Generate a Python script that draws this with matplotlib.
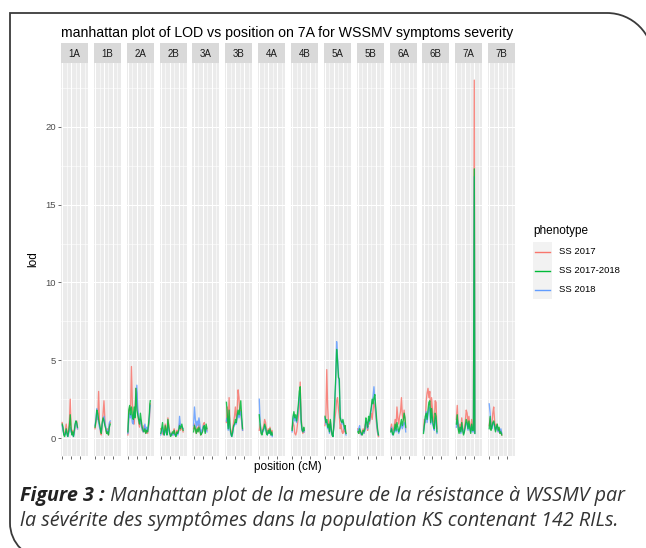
"""
Manhattan plot of LOD scores along the 14 wheat chromosomes for three
WSSMV symptom severity phenotypes, drawn as a ggplot-like facet row.
"""
import matplotlib
matplotlib.use("Agg")
import matplotlib.pyplot as plt
from matplotlib.path import Path
from matplotlib.patches import PathPatch, Rectangle

CHROMOSOMES = ["1A", "1B", "2A", "2B", "3A", "3B", "4A",
               "4B", "5A", "5B", "6A", "6B", "7A", "7B"]
PHENOTYPES = ["SS 2017", "SS 2017-2018", "SS 2018"]

# marker positions (cM) and LOD per phenotype, chromosome by chromosome
POS_1A = [0, 9, 18, 27, 36, 45, 54, 63, 72, 81, 90, 99, 108, 117, 126,
          135, 144, 153, 162, 171]
SS17_1A = [1.0, 0.6, 0.3, 0.2, 0.5, 0.9, 0.4, 0.2, 0.6, 1.1, 2.5, 0.8, 0.3,
           0.5, 0.2, 0.4, 0.7, 1.0, 1.1, 0.6]
SS1718_1A = [0.9, 0.7, 0.2, 0.1, 0.3, 0.6, 0.3, 0.1, 0.4, 0.8, 1.5, 0.6,
             0.2, 0.4, 0.1, 0.5, 0.9, 1.1, 1.0, 0.7]
SS18_1A = [0.8, 0.5, 0.3, 0.2, 0.3, 0.5, 0.2, 0.1, 0.3, 0.5, 0.7, 0.4, 0.3,
           0.2, 0.1, 0.3, 0.8, 1.1, 0.9, 0.6]

POS_1B = [0, 10, 20, 30, 40, 50, 60, 70, 80, 90, 100, 110, 120, 130, 140,
          150, 160, 170]
SS17_1B = [0.6, 1.0, 1.4, 1.2, 3.0, 1.0, 0.4, 0.2, 0.8, 1.6, 2.4, 1.2, 0.5,
           0.3, 0.6, 0.2, 0.9, 1.0]
SS1718_1B = [0.7, 1.1, 1.8, 1.6, 1.2, 0.9, 0.6, 0.3, 1.0, 1.3, 1.1, 0.8,
             0.6, 0.3, 0.4, 0.2, 0.7, 0.9]
SS18_1B = [0.8, 1.2, 1.9, 1.3, 1.0, 0.7, 0.5, 0.4, 0.9, 1.1, 1.4, 1.0, 0.7,
           0.4, 0.5, 0.3, 1.0, 1.1]

POS_2A = [0, 10, 20, 30, 40, 50, 60, 70, 80, 90, 100, 110, 120, 130, 140,
          150, 160, 170, 180, 190, 200, 210, 220, 230, 240, 245, 250]
SS17_2A = [0.2, 1.5, 2.0, 1.8, 4.6, 2.2, 1.4, 0.9, 1.8, 3.2, 2.9, 1.6, 1.0,
           0.7, 1.2, 0.9, 0.5, 0.4, 0.8, 0.6, 0.3, 0.5, 0.3, 0.7, 1.2, 1.8,
           2.2]
SS1718_2A = [0.4, 1.8, 2.1, 1.5, 2.0, 1.4, 1.2, 2.0, 1.3, 3.2, 1.8, 1.5,
             1.2, 0.9, 1.6, 1.1, 0.7, 0.5, 0.4, 0.6, 0.3, 0.5, 0.4, 0.9,
             1.6, 2.2, 2.4]
SS18_2A = [0.3, 1.2, 1.6, 1.3, 1.5, 1.0, 0.9, 1.7, 1.4, 2.6, 3.4, 1.9, 1.4,
           1.0, 1.2, 0.8, 0.6, 0.4, 0.6, 0.9, 0.5, 0.7, 0.4, 0.8, 1.3, 1.9,
           2.1]

POS_2B = [0, 10, 20, 30, 40, 50, 60, 70, 80, 90, 100, 110, 120, 130, 140,
          150, 160, 170, 180, 190, 200, 210, 220, 235, 250]
SS17_2B = [0.6, 0.5, 0.3, 0.2, 0.4, 0.9, 0.6, 0.3, 1.3, 0.8, 0.4, 0.2, 0.3,
           0.2, 0.4, 0.6, 0.3, 0.2, 0.5, 0.3, 0.6, 0.9, 0.5, 0.7, 0.4]
SS1718_2B = [0.3, 0.6, 1.0, 0.4, 0.2, 0.8, 0.5, 0.2, 1.2, 0.7, 0.3, 0.1,
             0.2, 0.4, 0.3, 0.5, 0.2, 0.1, 0.4, 0.3, 0.5, 0.8, 0.6, 0.9,
             0.5]
SS18_2B = [0.2, 0.4, 0.7, 0.3, 0.2, 0.5, 0.4, 0.2, 0.8, 0.5, 0.3, 0.2, 0.3,
           0.2, 0.2, 0.3, 0.2, 0.2, 0.3, 0.2, 0.4, 1.4, 0.8, 0.7, 0.6]

POS_3A = [0, 10, 20, 30, 40, 50, 60, 70, 80, 90, 100, 110, 120, 130, 140,
          150]
SS17_3A = [0.6, 0.9, 0.5, 0.3, 0.7, 0.4, 0.9, 0.6, 0.2, 0.3, 0.5, 0.9, 1.0,
           0.4, 0.7, 0.5]
SS1718_3A = [0.4, 0.8, 0.6, 0.3, 0.6, 0.4, 0.7, 0.5, 0.2, 0.3, 0.4, 0.7,
             0.8, 0.3, 0.9, 0.6]
SS18_3A = [0.8, 2.0, 1.2, 0.7, 1.1, 0.8, 1.3, 0.9, 0.3, 0.5, 0.6, 0.8, 0.7,
           0.4, 0.6, 0.4]

POS_3B = [0, 10, 20, 30, 40, 50, 60, 70, 80, 90, 100, 110, 120, 130, 140,
          150, 160, 170, 180]
SS17_3B = [1.0, 2.0, 0.8, 2.6, 0.9, 0.4, 0.2, 0.6, 1.0, 1.4, 2.0, 1.2, 1.8,
           3.1, 2.6, 1.5, 1.8, 1.0, 0.5]
SS1718_3B = [2.3, 1.5, 0.6, 1.8, 0.7, 0.3, 0.1, 0.4, 0.8, 0.9, 1.2, 1.0,
             1.5, 1.8, 1.5, 1.9, 2.4, 1.4, 0.6]
SS18_3B = [1.1, 1.3, 0.5, 1.2, 0.6, 0.2, 0.1, 0.3, 0.7, 0.8, 1.0, 0.9, 1.3,
           1.6, 1.3, 1.5, 1.7, 1.1, 0.5]

POS_4A = [0, 10, 20, 30, 40, 50, 60, 70, 80, 90, 100, 110, 120, 130, 140,
          145]
SS17_4A = [0.5, 0.9, 0.4, 0.3, 0.6, 0.8, 1.2, 1.0, 0.5, 0.3, 0.6, 0.4, 0.7,
           0.3, 0.5, 0.2]
SS1718_4A = [1.5, 0.8, 0.3, 0.2, 0.5, 0.6, 0.9, 0.7, 0.3, 0.2, 0.5, 0.3,
             0.6, 0.2, 0.4, 0.2]
SS18_4A = [2.5, 1.0, 0.5, 0.3, 0.4, 0.5, 0.8, 0.6, 0.4, 0.2, 0.4, 0.3, 0.5,
           0.2, 0.3, 0.1]

POS_4B = [0, 10, 20, 30, 40, 50, 60, 70, 80, 90, 100, 110, 120, 130, 135]
SS17_4B = [0.6, 1.0, 0.8, 0.3, 0.2, 0.4, 0.9, 1.4, 2.0, 3.6, 1.5, 0.5, 0.3,
           0.6, 0.4]
SS1718_4B = [0.5, 1.4, 1.7, 1.3, 1.5, 1.1, 1.6, 2.2, 3.0, 3.3, 1.2, 0.6,
             0.4, 0.7, 0.5]
SS18_4B = [0.4, 1.2, 1.5, 1.1, 1.3, 1.0, 1.4, 1.9, 2.6, 2.9, 1.0, 0.5, 0.4,
           0.6, 0.4]

POS_5A = [0, 10, 20, 30, 40, 50, 60, 70, 80, 90, 100, 110, 120, 130, 140,
          150, 160, 170, 180, 190, 200, 210, 220, 225, 230, 235]
SS17_5A = [0.8, 1.4, 4.4, 2.0, 0.9, 0.5, 1.1, 0.4, 0.2, 0.3, 0.7, 1.2, 1.7,
           2.4, 2.6, 1.9, 1.4, 0.6, 0.9, 0.4, 0.3, 0.6, 0.4, 0.8, 0.5, 0.3]
SS1718_5A = [1.4, 1.0, 1.2, 0.7, 0.9, 0.4, 1.2, 0.6, 0.2, 0.1, 1.0, 2.5,
             4.0, 5.7, 5.0, 3.9, 3.8, 1.3, 1.1, 1.0, 1.2, 0.9, 0.6, 0.8,
             0.4, 0.3]
SS18_5A = [1.3, 0.9, 1.1, 0.6, 0.8, 0.3, 1.0, 0.5, 0.2, 0.1, 0.8, 2.2, 3.6,
           6.2, 5.2, 4.2, 3.3, 1.4, 1.1, 0.9, 1.1, 0.7, 0.5, 0.7, 0.3, 0.2]

POS_5B = [0, 10, 20, 30, 40, 50, 60, 70, 80, 90, 100, 110, 120, 130, 140,
          150, 160, 170, 180, 190, 200, 210, 220, 230]
SS17_5B = [0.6, 0.4, 0.3, 0.5, 0.2, 0.4, 0.6, 0.3, 0.8, 1.0, 0.7, 0.5, 1.2,
           0.9, 1.3, 1.6, 1.2, 1.8, 2.3, 2.0, 1.5, 0.8, 0.3, 0.1]
SS1718_5B = [0.4, 0.3, 0.6, 0.4, 0.3, 0.2, 0.5, 0.4, 0.6, 1.3, 1.0, 0.7,
             1.4, 1.1, 1.6, 2.0, 2.5, 2.2, 2.6, 2.8, 2.0, 1.2, 0.6, 0.2]
SS18_5B = [0.5, 0.6, 0.8, 0.3, 0.2, 0.3, 0.4, 0.3, 0.5, 1.1, 0.8, 0.6, 1.2,
           1.0, 1.5, 1.8, 2.3, 2.7, 3.3, 2.5, 1.7, 1.0, 0.4, 0.2]

POS_6A = [0, 10, 20, 30, 40, 50, 60, 70, 80, 90, 100, 110, 120, 130, 140,
          150, 160, 168]
SS17_6A = [0.6, 0.9, 0.4, 0.5, 0.8, 1.2, 0.7, 2.0, 1.3, 0.9, 1.4, 1.7, 2.6,
           1.5, 1.2, 1.8, 1.1, 0.6]
SS1718_6A = [0.4, 0.6, 0.3, 0.2, 0.5, 0.9, 0.5, 1.0, 0.7, 0.4, 0.6, 0.9,
             1.2, 0.8, 1.1, 1.6, 1.3, 0.7]
SS18_6A = [0.5, 0.7, 0.2, 0.3, 0.4, 0.7, 0.4, 0.6, 0.5, 0.3, 0.5, 0.7, 0.9,
           0.6, 0.8, 1.0, 0.9, 0.4]

POS_6B = [0, 10, 20, 30, 40, 50, 60, 70, 80, 90, 100, 110, 120, 130, 140,
          150]
SS17_6B = [0.5, 1.2, 1.0, 2.4, 2.9, 3.2, 2.6, 3.0, 1.6, 2.6, 1.8, 1.2, 1.0,
           2.4, 2.3, 0.6]
SS1718_6B = [0.3, 0.9, 1.4, 1.6, 1.2, 1.8, 2.3, 2.4, 1.0, 1.9, 1.2, 0.8,
             0.6, 1.6, 1.4, 0.4]
SS18_6B = [0.4, 0.8, 1.1, 1.7, 1.0, 1.5, 1.9, 2.0, 0.9, 1.6, 1.0, 0.7, 0.5,
           1.3, 1.1, 0.3]

POS_7A = [0, 10, 20, 30, 40, 50, 60, 70, 80, 90, 100, 110, 120, 130, 140,
          150, 160, 170, 180, 190, 200, 206]
SS17_7A = [1.2, 2.1, 0.8, 0.4, 0.9, 0.5, 1.3, 0.7, 0.3, 0.6, 1.1, 1.8, 1.6,
           0.9, 1.4, 0.8, 0.5, 1.2, 0.7, 0.6, 23.0, 0.4]
SS1718_7A = [0.9, 1.5, 0.6, 0.3, 0.7, 0.4, 1.0, 0.5, 0.2, 0.4, 0.8, 1.2,
             1.0, 0.6, 1.1, 0.6, 0.3, 0.9, 0.5, 0.5, 17.3, 0.3]
SS18_7A = [0.7, 1.2, 0.9, 0.5, 0.6, 0.3, 0.8, 0.6, 0.3, 0.5, 0.7, 1.0, 0.9,
           0.5, 0.9, 0.7, 0.4, 0.8, 0.4, 0.4, 16.8, 0.3]

POS_7B = [0, 10, 20, 30, 40, 50, 60, 70, 80, 90, 100, 110, 120, 130, 140]
SS17_7B = [0.8, 1.3, 0.6, 0.9, 1.6, 2.0, 1.1, 0.5, 0.9, 0.7, 0.4, 0.6, 0.3,
           0.5, 0.2]
SS1718_7B = [0.6, 1.4, 0.5, 0.7, 1.0, 1.1, 0.8, 0.4, 0.7, 0.9, 0.5, 0.7,
             0.3, 0.4, 0.2]
SS18_7B = [2.2, 1.6, 0.7, 0.6, 0.9, 1.0, 0.7, 0.5, 0.8, 0.6, 0.4, 0.5, 0.4,
           0.6, 0.3]

X_TICKS = [0, 100, 200]
Y_TICKS = [0, 5, 10, 15, 20]

COLORS = {"SS 2017": "#F8766D", "SS 2017-2018": "#00BA38",
          "SS 2018": "#619CFF"}
FONT = ["Liberation Sans", "DejaVu Sans"]
W, H = 646, 548


def build_table():
    """Group the per-chromosome lists by chromosome name."""
    g = globals()
    table = {}
    for c in CHROMOSOMES:
        table[c] = {
            "pos": g["POS_" + c],
            "SS 2017": g["SS17_" + c],
            "SS 2017-2018": g["SS1718_" + c],
            "SS 2018": g["SS18_" + c],
        }
    return table


def fx(px):
    return px / W


def fy(py):
    return 1 - py / H


def draw_panels(fig, table):
    left, width, step = 61, 27, 32.85
    top, bottom = 63, 456
    for i, c in enumerate(CHROMOSOMES):
        x0 = left + i * step
        ax = fig.add_axes([fx(x0), fy(bottom), width / W, (bottom - top) / H])
        ax.set_facecolor("#EBEBEB")
        ax.set_xlim(-13, 288)
        ax.set_ylim(-1.15, 24.1)
        ax.set_xticks(X_TICKS)
        ax.set_xticks([50, 150, 250], minor=True)
        ax.set_yticks(Y_TICKS)
        ax.set_yticks([2.5, 7.5, 12.5, 17.5, 22.5], minor=True)
        ax.grid(which="major", color="white", linewidth=0.75)
        ax.grid(which="minor", color="white", linewidth=0.4)
        ax.set_axisbelow(True)
        for s in ax.spines.values():
            s.set_visible(False)
        ax.tick_params(which="minor", length=0)
        ax.tick_params(which="major", length=2.2, width=0.5, color="#333333",
                       labelsize=6.8, labelcolor="#4D4D4D", pad=1.5)
        ax.set_xticklabels([])
        if i > 0:
            ax.tick_params(axis="y", length=0, labelleft=False)

        d = table[c]
        for ph in ["SS 2017", "SS 2018", "SS 2017-2018"]:
            ax.plot(d["pos"], d[ph], color=COLORS[ph], linewidth=0.95,
                    alpha=0.85)

        strip = fig.add_axes([fx(x0), fy(top), width / W, 20 / H])
        strip.set_facecolor("#D9D9D9")
        strip.set_xticks([])
        strip.set_yticks([])
        for s in strip.spines.values():
            s.set_visible(False)
        strip.text(0.5, 0.47, c, ha="center", va="center", fontsize=7,
                   color="#1A1A1A", family=FONT)


def draw_frame(over):
    # open outline: rounded bottom-left, square top-left, rounded top-right
    k = 0.5523
    x0, y0, x1 = 10, 13, 653
    rt, rl, yb = 46, 36, 559
    verts = [
        (x0 + rl, yb),
        (x0 + rl - rl * k, yb), (x0, yb - rl + rl * k), (x0, yb - rl),
        (x0, y0),
        (x1 - rt, y0),
        (x1 - rt + rt * k, y0), (x1, y0 + rt - rt * k), (x1, y0 + rt),
        (x1, 600),
    ]
    codes = [Path.MOVETO,
             Path.CURVE4, Path.CURVE4, Path.CURVE4,
             Path.LINETO, Path.LINETO,
             Path.CURVE4, Path.CURVE4, Path.CURVE4,
             Path.LINETO]
    over.add_patch(PathPatch(Path(verts, codes), facecolor="none",
                             edgecolor="#3A3A3A", linewidth=1.3))


def draw_legend(over):
    over.text(533, 231, "phenotype", fontsize=8.5, color="black",
              ha="left", va="center", family=FONT)
    rows = [251.5, 270.5, 289.5]
    for ph, yc in zip(PHENOTYPES, rows):
        over.add_patch(Rectangle((533, yc - 9.2), 18.5, 18.4,
                                 facecolor="#F2F2F2", edgecolor="none"))
        over.plot([535, 549.5], [yc, yc], color=COLORS[ph], linewidth=1.0)
        over.text(559, yc, ph, fontsize=6.8, color="black", ha="left",
                  va="center", family=FONT)


def main():
    plt.rcParams["font.family"] = FONT
    fig = plt.figure(figsize=(W / 100, H / 100), dpi=100)
    fig.patch.set_facecolor("white")

    draw_panels(fig, build_table())

    over = fig.add_axes([0, 0, 1, 1])
    over.set_xlim(0, W)
    over.set_ylim(H, 0)
    over.axis("off")
    over.patch.set_alpha(0)

    over.text(61, 33, "manhattan plot of LOD vs position on 7A for WSSMV "
              "symptoms severity", fontsize=10.2, ha="left", va="center",
              color="black", family=FONT)
    over.text(33, 259.5, "lod", rotation=90, fontsize=8.5, ha="center",
              va="center", family=FONT)
    over.text(288, 467, "position (cM)", fontsize=8.5, ha="center",
              va="center", family=FONT)

    draw_legend(over)
    draw_frame(over)

    cap = ["Open Sans", "DejaVu Sans"]
    size = 14.2
    t1 = over.text(20, 496, "Figure 3 :", fontsize=size, fontstyle="italic",
                   fontweight="bold", ha="left", va="center", color="#222222",
                   family=cap)
    over.annotate(" Manhattan plot de la mesure de la résistance à WSSMV par",
                  xy=(1, 0.5), xycoords=t1, ha="left", va="center",
                  fontsize=size, fontstyle="italic", fontweight="normal",
                  color="#333333", family=cap)
    over.text(20, 521, "la sévérite des symptômes dans la population KS "
              "contenant 142 RILs.", fontsize=size, fontstyle="italic",
              fontweight="normal", ha="left", va="center", color="#333333",
              family=cap)

    fig.savefig("out.png", dpi=100)


if __name__ == "__main__":
    main()
